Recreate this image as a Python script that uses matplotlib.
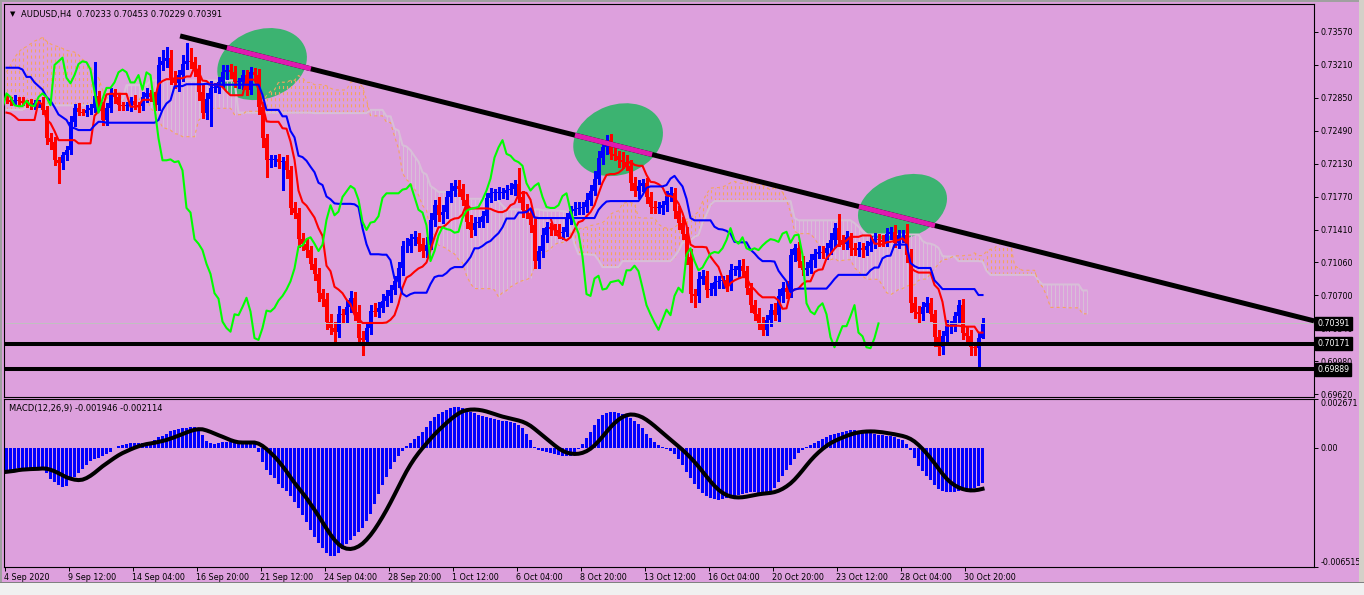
import numpy as np
import pandas as pd
import matplotlib
matplotlib.use("Agg")
import matplotlib.pyplot as plt
from matplotlib.collections import LineCollection
from matplotlib.patches import Ellipse, Rectangle
from matplotlib.transforms import IdentityTransform

plt.rcParams['font.family'] = ['DejaVu Sans']
plt.rcParams['lines.scale_dashes'] = False

# ---------------- data (prices in pips = price * 1e4) ----------------
title_text = "AUDUSD,H4  0.70233 0.70453 0.70229 0.70391"
macd_text = "MACD(12,26,9) -0.001946 -0.002114"
date_labels = ['4 Sep 2020', '9 Sep 12:00', '14 Sep 04:00', '16 Sep 20:00', '21 Sep 12:00',
               '24 Sep 04:00', '28 Sep 20:00', '1 Oct 12:00', '6 Oct 04:00', '8 Oct 20:00',
               '13 Oct 12:00', '16 Oct 04:00', '20 Oct 20:00', '23 Oct 12:00', '28 Oct 04:00',
               '30 Oct 20:00']
price_ticks = [0.73570, 0.73210, 0.72850, 0.72490, 0.72130, 0.71770, 0.71410, 0.71060,
               0.70700, 0.70340, 0.69980, 0.69620]
price_tick_labels = ['0.73570', '0.73210', '0.72850', '0.72490', '0.72130', '0.71770',
                     '0.71410', '0.71060', '0.70700', '0.70340', '0.69980', '0.69620']
macd_ticks = [0.002671, 0.0, -0.006515]
macd_tick_labels = ['0.002671', '0.00', '-0.006515']

first_open_pips = 7285
close_pips = [
    7283, 7281, 7283, 7282, 7280, 7279, 7276, 7279, 7280, 7272,
    7241, 7237, 7217, 7214, 7223, 7228, 7259, 7274, 7270, 7269,
    7272, 7274, 7287, 7277, 7261, 7274,
    7290, 7286, 7277, 7276, 7276, 7282, 7277, 7276, 7286, 7290,
    7286, 7277, 7321, 7325, 7329, 7307, 7301, 7310, 7322, 7325,
    7324, 7316, 7292, 7269, 7284, 7296, 7296, 7302, 7313, 7316,
    7313, 7302, 7302, 7310, 7294, 7313, 7310, 7275, 7241, 7217,
    7217, 7218, 7215, 7216, 7206, 7165, 7160, 7131, 7126, 7119,
    7104, 7093, 7072, 7066, 7041, 7034, 7030, 7049, 7048, 7057,
    7067, 7052, 7023, 7021, 7034, 7053, 7052, 7056, 7064, 7069,
    7076, 7085, 7099, 7123, 7124, 7131, 7133, 7126, 7118, 7125,
    7152, 7168, 7157, 7161, 7177, 7183, 7189, 7186, 7174, 7150,
    7141, 7149, 7150, 7156, 7176, 7181, 7181, 7181, 7181, 7185,
    7186, 7191, 7177, 7163, 7160, 7146, 7107, 7118, 7135, 7144,
    7142, 7141, 7138, 7139, 7154, 7162, 7164, 7165, 7166, 7174,
    7184, 7197, 7220, 7231, 7239, 7224, 7222, 7217, 7215, 7211,
    7192, 7184, 7189, 7192, 7177, 7166, 7165, 7165, 7168, 7178,
    7181, 7162, 7149, 7137, 7112, 7071, 7069, 7088, 7091, 7076,
    7077, 7084, 7085, 7086, 7081, 7097, 7097, 7102, 7096, 7078,
    7059, 7049, 7040, 7032, 7043, 7054, 7048, 7069, 7078, 7073,
    7114, 7121, 7107, 7097, 7100, 7108, 7115, 7117, 7116, 7121,
    7130, 7143, 7130, 7126, 7133, 7121, 7119, 7121, 7119, 7124,
    7128, 7131, 7130, 7128, 7137, 7139, 7127, 7135, 7136, 7114,
    7061, 7052, 7049, 7057, 7061, 7049, 7024, 7013, 7025, 7036,
    7036, 7047, 7059, 7029, 7025, 7013, 7012, 7023, 7039]
upper_wick_pips = [
    4, 3, 5, 3, 4, 3, 5, 4, 3, 6,  4, 6, 5, 4, 3, 5, 6, 4, 5, 3,
    5, 4, 37, 6, 4, 5, 6, 5, 4, 4,  5, 4, 6, 4, 5, 6, 4, 5, 9, 12,
    12, 8, 7, 6, 10, 20, 15, 6, 5, 8,  6, 7, 5, 6, 8, 5, 6, 7, 5, 6,
    5, 6, 5, 7, 6, 5, 6, 5, 6, 5,  7, 5, 6, 5, 7, 6, 5, 6, 7, 5,
    6, 8, 7, 9, 6, 8, 7, 6, 7, 8,  7, 6, 8, 6, 7, 6, 5, 6, 7, 6,
    8, 6, 7, 5, 6, 8, 7, 6, 9, 7,  6, 9, 7, 6, 5, 6, 7, 6, 5, 6,
    5, 6, 5, 7, 6, 5, 6, 5, 18, 6,  6, 5, 7, 6, 8, 6, 5, 6, 7, 5,
    6, 5, 7, 6, 5, 7, 6, 8, 7, 6,  6, 7, 8, 5, 9, 8, 6, 7, 6, 5,
    6, 5, 7, 6, 5, 6, 7, 6, 5, 6,  7, 8, 6, 7, 6, 5, 6, 7, 6, 5,
    6, 7, 5, 6, 7, 6, 5, 6, 7, 6,  5, 6, 7, 8, 6, 7, 6, 5, 7, 6,
    6, 7, 5, 6, 7, 6, 8, 6, 15, 6,  7, 5, 6, 7, 6, 5, 6, 7, 6, 5,
    6, 5, 7, 6, 5, 12, 6, 7, 6, 5,  7, 6, 5, 8, 6, 7, 6, 5, 6, 7,
    6, 7, 5, 6, 6]
lower_wick_pips = [
    3, 4, 3, 5, 3, 4, 3, 3, 4, 5,  6, 8, 5, 22, 7, 6, 4, 5, 4, 3,
    4, 5, 4, 5, 6, 5, 4, 6, 5, 4,  4, 5, 4, 6, 4, 5, 4, 5, 5, 6,
    6, 7, 5, 8, 6, 5, 6, 7, 9, 6,  7, 30, 5, 6, 5, 7, 6, 5, 6, 7,
    6, 5, 7, 8, 9, 18, 7, 6, 6, 30,  8, 7, 6, 9, 7, 8, 6, 7, 9, 8,
    8, 7, 10, 6, 8, 7, 6, 9, 8, 16,  6, 7, 5, 6, 5, 6, 7, 5, 6, 7,
    6, 7, 6, 8, 7, 6, 5, 7, 6, 8,  7, 6, 5, 8, 6, 7, 8, 6, 5, 6,
    6, 5, 7, 6, 5, 6, 5, 7, 6, 8,  6, 7, 7, 8, 6, 7, 6, 5, 6, 7,
    5, 6, 5, 6, 7, 5, 6, 5, 6, 7,  7, 6, 5, 7, 6, 5, 7, 6, 8, 6,
    7, 6, 5, 6, 7, 6, 5, 8, 7, 6,  8, 9, 12, 7, 6, 8, 6, 7, 6, 7,
    7, 6, 5, 7, 6, 7, 8, 6, 7, 6,  6, 7, 5, 6, 7, 6, 5, 7, 6, 5,
    5, 6, 7, 5, 6, 7, 6, 8, 7, 6,  6, 7, 5, 6, 7, 5, 6, 7, 6, 5,
    5, 6, 5, 6, 7, 8, 9, 7, 8, 6,  6, 7, 10, 8, 7, 6, 7, 5, 6, 7,
    9, 8, 7, 20, 0]

# Ichimoku values at the left edge (they depend on bars before the window)
seed_tenkan_pips = [7269, 7268, 7265, 7261, 7261, 7261, 7261, 7261]
seed_kijun_pips = [7318, 7318, 7318, 7318, 7316, 7308, 7308, 7302, 7298, 7294,
                   7286, 7282, 7275, 7267, 7264, 7261, 7253, 7252, 7250, 7250,
                   7250, 7250, 7255, 7259, 7259]
seed_span_a_pips = [7313, 7321, 7329, 7335, 7339, 7341, 7344, 7347, 7349, 7351,
                    7347, 7344, 7342, 7341, 7339, 7337, 7336, 7335, 7332, 7327,
                    7324, 7319, 7311, 7307, 7294, 7283]
seed_span_b_pips = [7272, 7272, 7272, 7272, 7272, 7275, 7275, 7275, 7275, 7275,
                    7277, 7277, 7277, 7277, 7277, 7277, 7277, 7277, 7277, 7277,
                    7277, 7277, 7277, 7277, 7283, 7283, 7283, 7283, 7283, 7283,
                    7299, 7299, 7299, 7299, 7299, 7299, 7304, 7304, 7304, 7304,
                    7304, 7304, 7304, 7304, 7304, 7304, 7304, 7304, 7304, 7304,
                    7304, 7304, 7304, 7304, 7304, 7304, 7304, 7304, 7269, 7269,
                    7269, 7269, 7269, 7269, 7269, 7269, 7269, 7269, 7269, 7269,
                    7269, 7269, 7269, 7269, 7269, 7269, 7269]

# MACD main (histogram) in units of 1e-4
macd_e4 = [
    -13.1, -12.6, -12.0, -10.9, -10.9, -10.9, -10.9, -10.9, -10.9, -11.5,
    -13.7, -17.0, -18.6, -20.2, -21.3, -20.8, -17.5, -15.9, -13.7, -11.5,
    -9.3, -7.1, -6.0, -5.5, -4.4, -3.3, -2.2, 0.0, 1.1, 1.6,
    2.2, 2.7, 2.7, 2.7, 2.7, 2.7, 3.3, 4.4, 6.0, 6.6,
    7.7, 9.3, 9.8, 10.4, 10.9, 10.9, 11.5, 11.5, 9.8, 7.1,
    3.8, 2.7, 2.2, 2.7, 3.3, 3.3, 3.3, 3.3, 2.7, 2.7,
    2.7, 2.7, 2.2, -2.2, -7.7, -12.0, -14.8, -16.4, -19.7, -21.9,
    -23.5, -26.3, -29.5, -32.8, -36.6, -40.5, -44.9, -48.7, -52.0, -54.7,
    -57.4, -59.1, -59.1, -57.4, -55.2, -52.5, -50.3, -48.1, -45.9, -43.8,
    -39.9, -36.1, -30.6, -25.2, -20.2, -15.9, -11.5, -7.7, -4.4, -1.6,
    1.1, 2.7, 4.9, 6.6, 8.8, 11.5, 14.8, 17.0, 18.6, 19.7,
    20.8, 21.9, 22.4, 22.4, 21.9, 20.8, 19.7, 19.1, 18.1, 17.5,
    17.0, 16.4, 15.9, 15.3, 14.8, 14.8, 14.2, 13.7, 12.6, 10.9,
    7.7, 4.4, 0.5, -1.1, -1.6, -2.2, -2.7, -3.3, -3.8, -4.4,
    -4.4, -4.4, -3.3, -0.5, 2.2, 5.5, 8.8, 12.6, 15.9, 18.1,
    19.1, 19.7, 19.7, 19.1, 18.6, 17.5, 16.4, 14.8, 13.1, 10.9,
    7.7, 5.5, 3.3, 1.6, 0.5, -0.5, -1.6, -3.3, -6.0, -9.3,
    -13.1, -16.4, -19.7, -22.4, -24.6, -26.3, -27.4, -27.9, -28.4, -27.9,
    -27.4, -26.8, -26.3, -25.7, -25.2, -24.6, -24.1, -24.1, -24.6, -24.6,
    -24.6, -24.1, -21.9, -18.6, -15.3, -12.0, -9.3, -6.0, -2.7, -1.1,
    0.5, 1.6, 2.7, 3.8, 4.9, 6.0, 7.1, 7.7, 8.2, 8.8,
    9.3, 9.8, 9.8, 9.3, 8.8, 8.8, 8.2, 7.7, 7.1, 7.1,
    6.6, 6.6, 6.0, 4.9, 4.4, 2.2, -1.1, -5.5, -9.8, -12.6,
    -15.3, -17.5, -20.2, -22.4, -23.5, -24.1, -24.1, -24.1, -23.5, -23.0,
    -22.4, -22.4, -21.9, -20.8, -19.46]

# drawn objects
bid_price = 0.70391
support_levels = [0.70171, 0.69889]
trend_from = (43.4, 0.73527)
trend_to = (326.9, 0.70418)
trend_highlights = [(55.1, 76.1), (142.1, 161.4), (213.1, 232.1)]
ellipse_centers = [(63.9, 0.73220), (152.9, 0.72395), (224.0, 0.71660)]
ellipse_sizes_px = [(92, 69, 20), (92, 70, 20), (92, 62, 20)]

# ---------------- computations ----------------
c = np.array(close_pips, float) / 1e4
n = len(c)
o = np.r_[first_open_pips / 1e4, c[:-1]]
h = np.maximum(o, c) + np.array(upper_wick_pips[:n], float) / 1e4
l = np.minimum(o, c) - np.array(lower_wick_pips[:n], float) / 1e4
Hs, Ls = pd.Series(h), pd.Series(l)
tenkan = ((Hs.rolling(9, min_periods=1).max() + Ls.rolling(9, min_periods=1).min()) / 2).values
tenkan[:len(seed_tenkan_pips)] = np.array(seed_tenkan_pips) / 1e4
kijun = ((Hs.rolling(26, min_periods=1).max() + Ls.rolling(26, min_periods=1).min()) / 2).values
kijun[:len(seed_kijun_pips)] = np.array(seed_kijun_pips) / 1e4
span_a = np.full(n + 26, np.nan)
span_a[26:] = (tenkan + kijun) / 2
span_a[:26] = np.array(seed_span_a_pips) / 1e4
span_b = np.full(n + 26, np.nan)
span_b[26:] = ((Hs.rolling(52, min_periods=1).max() + Ls.rolling(52, min_periods=1).min()) / 2).values
span_b[:len(seed_span_b_pips)] = np.array(seed_span_b_pips) / 1e4
macd = np.array(macd_e4[:n]) / 1e4
signal = pd.Series(macd).rolling(9, min_periods=1).mean().values

# ---------------- figure ----------------
W, H = 1364, 595
BG = '#DDA0DD'
fig = plt.figure(figsize=(W / 100, H / 100), dpi=100, facecolor=BG)


def frac(x0, y0, x1, y1):
    return [x0 / W, 1 - y1 / H, (x1 - x0) / W, (y1 - y0) / H]


ax = fig.add_axes(frac(4, 4, 1314, 397))
ax2 = fig.add_axes(frac(4, 399, 1314, 567), sharex=ax)
for a in (ax, ax2):
    a.set_facecolor(BG)
    for s in a.spines.values():
        s.set_color('black')
        s.set_linewidth(0.8)
    a.yaxis.tick_right()
    a.tick_params(axis='y', direction='out', length=3, width=0.7, pad=2,
                  labelsize=5.7, colors='black')

XMIN, XMAX = -0.625, 326.875
ax.set_xlim(XMIN, XMAX)
ax.set_ylim(0.695873, 0.738755)
ax2.set_ylim(-0.006515, 0.002671)

x = np.arange(n)
xf = np.arange(n + 26)

# cloud hatching
segs_up, segs_dn = [], []
for k in xf:
    a_, b_ = span_a[k], span_b[k]
    if np.isnan(a_) or np.isnan(b_):
        continue
    if a_ >= b_:
        segs_up.append([(k, b_), (k, a_)])
    else:
        segs_dn.append([(k, a_), (k, b_)])
ax.add_collection(LineCollection(segs_dn, colors='#D8BFD8', linewidths=0.8, zorder=1))
ax.add_collection(LineCollection(segs_up, colors='#F4A460', linewidths=0.8,
                                 linestyles=[(0, (2.2, 2.2))], zorder=1))
ax.plot(xf, span_b, color='#D8BFD8', lw=1.5, zorder=1.2)
ax.plot(xf, span_a, color='#F4A460', lw=0.8, ls=(0, (2.2, 2.2)), zorder=1.2)

# candles
cols = np.where(c >= o, '#0000FF', '#FF0000')
ax.vlines(x, l, h, colors=cols, lw=0.75, zorder=2, antialiased=False)
ax.bar(x, np.maximum(np.abs(c - o), 0.0001), bottom=np.minimum(o, c), width=0.7,
       color=cols, linewidth=0, zorder=2.1, antialiased=False)

# ichimoku lines
ax.plot(x, tenkan, color='#FF0000', lw=1.5, zorder=3)
ax.plot(x, kijun, color='#0000FF', lw=1.5, zorder=3)
ax.plot(x - 26, c, color='#00FF00', lw=1.5, zorder=3)

# horizontal lines and trend line
ax.axhline(bid_price, color='#C0C0C0', lw=0.7, zorder=2.5)
for lv in support_levels:
    ax.axhline(lv, color='black', lw=2.9, zorder=4)
ax.plot([trend_from[0], trend_to[0]], [trend_from[1], trend_to[1]], color='black',
        lw=3.6, solid_capstyle='butt', zorder=4)
slope = (trend_to[1] - trend_from[1]) / (trend_to[0] - trend_from[0])
for x0, x1 in trend_highlights:
    ax.plot([x0, x1], [trend_from[1] + slope * (x0 - trend_from[0]),
                       trend_from[1] + slope * (x1 - trend_from[0])],
            color='#E01AB0', lw=3.6, solid_capstyle='butt', zorder=4.5)

# ellipses (background objects)
for (cx, cy), (ew, eh, ang) in zip(ellipse_centers, ellipse_sizes_px):
    px, py = ax.transData.transform((cx, cy))
    e = Ellipse((px, py), ew, eh, angle=ang, transform=IdentityTransform(),
                facecolor='#3CB371', edgecolor='none', zorder=0.5)
    ax.add_artist(e)

# price axis
ax.set_yticks(price_ticks)
ax.set_yticklabels(price_tick_labels)
ax.tick_params(axis='x', bottom=False, labelbottom=False)
for lv, txt in [(bid_price, '0.70391'), (support_levels[0], '0.70171'),
                (support_levels[1], '0.69889')]:
    ax.annotate(txt, xy=(1.0, lv), xycoords=('axes fraction', 'data'),
                xytext=(2.5, 0), textcoords='offset points', ha='left', va='center',
                fontsize=5.7, color='white', zorder=10, annotation_clip=False,
                bbox=dict(boxstyle='square,pad=0.25', fc='black', ec='black'))

# MACD
ax2.bar(x, macd, width=0.66, color='#0000FF', linewidth=0, antialiased=False, zorder=2)
ax2.plot(x, signal, color='black', lw=2.9, zorder=3)
ax2.set_yticks(macd_ticks)
ax2.set_yticklabels(macd_tick_labels)
yl = ax2.get_yticklabels()
yl[0].set_va('top')
yl[2].set_va('bottom')
ax2.set_xticks([16 * m - 0.5 for m in range(len(date_labels))])
ax2.set_xticklabels(date_labels)
ax2.tick_params(axis='x', direction='out', length=3, width=0.7, pad=1.5,
                labelsize=5.8, colors='black')
for t in ax2.get_xticklabels():
    t.set_ha('left')
ax2.set_xlim(XMIN, XMAX)

# texts
fig.text(10 / W, 1 - 14 / H, '\u25bc', fontsize=5, ha='left', va='center', color='black')
fig.text(21 / W, 1 - 14 / H, title_text, fontsize=6.0, ha='left', va='center', color='black')
fig.text(9 / W, 1 - 409 / H, macd_text, fontsize=6, ha='left', va='center', color='black')

# window border / bottom strip
fig.patches.append(Rectangle((0, 0), 2 / W, 1, transform=fig.transFigure,
                             facecolor='#A0A0A0', edgecolor='none', zorder=0))
fig.patches.append(Rectangle((0, 1 - 2 / H), 1, 2 / H, transform=fig.transFigure,
                             facecolor='#A0A0A0', edgecolor='none', zorder=0))
fig.patches.append(Rectangle((1359 / W, 0), 5 / W, 1, transform=fig.transFigure,
                             facecolor='#D4D0C8', edgecolor='none', zorder=0))
fig.patches.append(Rectangle((0, 0), 1, 12 / H, transform=fig.transFigure,
                             facecolor='#F0F0F0', edgecolor='none', zorder=0))
fig.patches.append(Rectangle((0, 12 / H), 1, 1 / H, transform=fig.transFigure,
                             facecolor='#808080', edgecolor='none', zorder=0))

fig.savefig('out.png', dpi=100, facecolor=BG)
